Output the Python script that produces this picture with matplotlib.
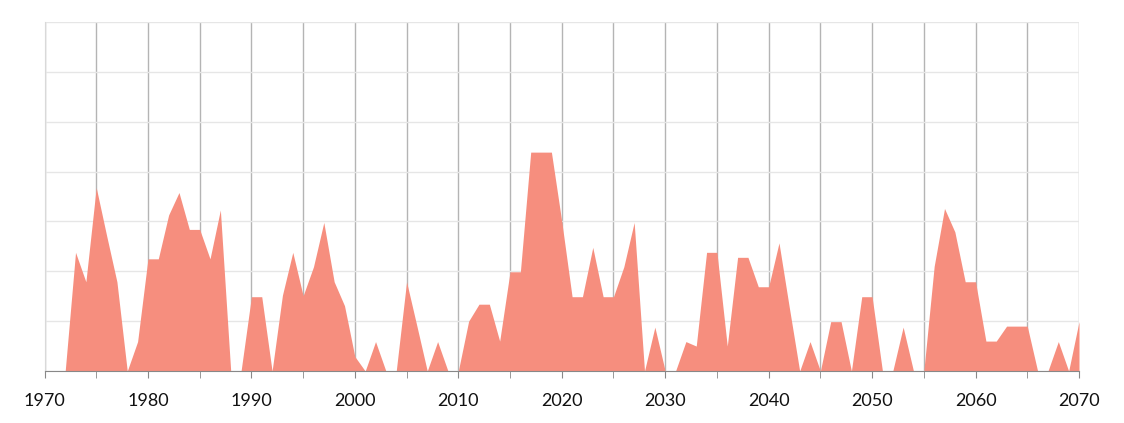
"""
Yearly area chart, 1970-2070, salmon fill on a light grid.
"""

import matplotlib.pyplot as plt
from matplotlib.ticker import MultipleLocator

FILL_COLOR = "#f68e7e"

years = list(range(1970, 2071))

# values in gridline units
values = [
    0, 0, 0, 2.38, 1.79, 3.68, 2.72, 1.79, 0, 0.59,          # 1970-1979
    2.25, 2.25, 3.13, 3.58, 2.84, 2.84, 2.25, 3.23, 0, 0,     # 1980-1989
    1.49, 1.49, 0, 1.52, 2.38, 1.51, 2.09, 2.98, 1.79, 1.31,  # 1990-1999
    0.29, 0, 0.59, 0, 0, 1.79, 0.9, 0, 0.59, 0,               # 2000-2009
    0, 1.0, 1.34, 1.34, 0.6, 1.99, 1.99, 4.39, 4.39, 4.39,    # 2010-2019
    3.0, 1.49, 1.49, 2.48, 1.49, 1.49, 2.09, 2.98, 0, 0.88,   # 2020-2029
    0, 0, 0.59, 0.5, 2.38, 2.38, 0.5, 2.28, 2.28, 1.69,       # 2030-2039
    1.69, 2.57, 1.27, 0, 0.59, 0, 0.99, 0.99, 0, 1.49,        # 2040-2049
    1.49, 0, 0, 0.88, 0, 0, 2.1, 3.26, 2.79, 1.79,            # 2050-2059
    1.79, 0.6, 0.6, 0.9, 0.9, 0.9, 0, 0, 0.59, 0,             # 2060-2069
    0.99,                                                     # 2070
]

x_labels = [str(y) for y in range(1970, 2071, 10)]

fig = plt.figure(figsize=(11.24, 4.23), dpi=100)
ax = fig.add_axes([44.5 / 1124, 52 / 423, (1079 - 44.5) / 1124, (371 - 22) / 423])

ax.fill_between(years, values, 0, color=FILL_COLOR, linewidth=0, zorder=3)

ax.set_xlim(1970, 2070)
ax.set_ylim(0, 7)

# grid: light horizontal lines, darker vertical lines every 5 years
ax.xaxis.set_minor_locator(MultipleLocator(5))
ax.yaxis.set_major_locator(MultipleLocator(1))
ax.grid(axis="y", which="major", color="#e6e6e6", linewidth=1, zorder=0)
ax.grid(axis="x", which="both", color="#b4b4b4", linewidth=1, zorder=1)

ax.set_xticks(range(1970, 2071, 10))
ax.set_xticklabels(x_labels, fontsize=13, family=["Lato", "DejaVu Sans"], color="#111111")
ax.tick_params(axis="x", which="both", length=5, color="#888888", pad=11)
ax.tick_params(axis="y", length=0, labelleft=False)

for side in ("top", "right"):
    ax.spines[side].set_visible(False)
ax.spines["left"].set_color("#d9d9d9")
ax.spines["bottom"].set_color("#888888")
ax.spines["bottom"].set_zorder(4)

plt.savefig("out.png", dpi=100)
plt.close()
